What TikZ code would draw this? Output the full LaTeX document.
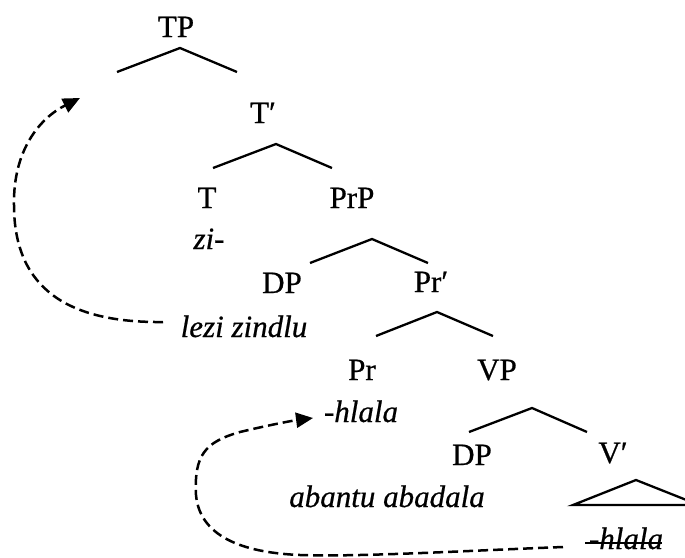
\documentclass[tikz,border=0pt]{standalone}
\usepackage{fontspec}
\setmainfont{Liberation Serif}[FakeBold=0.6,ItalicFont=Liberation Serif Italic]
\usetikzlibrary{arrows.meta}
\begin{document}
\begin{tikzpicture}[x=1pt,y=-1pt,
  lab/.style={anchor=base,inner sep=0pt,font=\fontsize{31}{37}\selectfont},
  word/.style={anchor=base,inner sep=0pt,font=\fontsize{31}{37}\selectfont\itshape},
  branch/.style={line width=2.3pt,line join=miter,line cap=butt},
  move/.style={line width=2.5pt,dash pattern=on 10pt off 5pt,-{Triangle[length=17pt,width=15pt]}}]
\clip (0,0) rectangle (685,557);
% labels
\node[lab] (tp) at (176,37) {TP};
\node[lab] (tbar) at (263,123) {T′};
\node[lab] (t) at (207,208) {T};
\node[word] (zi) at (209,249) {zi-};
\node[lab] (prp) at (352,208) {PrP};
\node[lab] (dp1) at (282,293) {DP};
\node[lab] (prbar) at (431,292) {Pr′};
\node[word] (lezi) at (244,337) {lezi zindlu};
\node[lab] (pr) at (362,380) {Pr};
\node[lab] (vp) at (497,380) {VP};
\node[word] (hlala) at (361,422) {-hlala};
\node[lab] (dp2) at (472,465) {DP};
\node[lab] (vbar) at (613,463) {V′};
\node[word] (abantu) at (387,507) {abantu abadala};
\node[word] (hlalax) at (626,549) {-hlala};
% branch points
\coordinate (a1) at (180,48); \coordinate (l1) at (117,72); \coordinate (r1) at (237,72);
\coordinate (a2) at (276,144); \coordinate (l2) at (213,168); \coordinate (r2) at (332,168);
\coordinate (a3) at (372,239); \coordinate (l3) at (310,263); \coordinate (r3) at (428,263);
\coordinate (a4) at (437,312); \coordinate (l4) at (376,336); \coordinate (r4) at (493,336);
\coordinate (a5) at (532,408); \coordinate (l5) at (469,432); \coordinate (r5) at (587,432);
\coordinate (a6) at (636,480); \coordinate (l6) at (573,505); \coordinate (r6) at (699,505);
\draw[branch] (l1) -- (a1) -- (r1);
\draw[branch] (l2) -- (a2) -- (r2);
\draw[branch] (l3) -- (a3) -- (r3);
\draw[branch] (l4) -- (a4) -- (r4);
\draw[branch] (l5) -- (a5) -- (r5);
\draw[branch] (l6) -- (a6) -- (r6) -- cycle;
% strike-through
\coordinate (sx1) at (585,543); \coordinate (sx2) at (662,543);
\draw[line width=2pt] (sx1) -- (sx2);
% movement arrows
\coordinate (s1) at (163,322); \coordinate (t1) at (80,98);
\draw[move] (s1) .. controls (70,323) and (14,290) .. (14,205)
  .. controls (13,150) and (40,118) .. (t1);
\coordinate (s2) at (563,547); \coordinate (t2) at (313,418);
\draw[move] (s2) .. controls (460,551) and (360,557) .. (300,555)
  .. controls (250,553) and (200,540) .. (196,495)
  .. controls (194,455) and (205,442) .. (240,432)
  .. controls (265,426) and (290,421) .. (t2);
\end{tikzpicture}
\end{document}
